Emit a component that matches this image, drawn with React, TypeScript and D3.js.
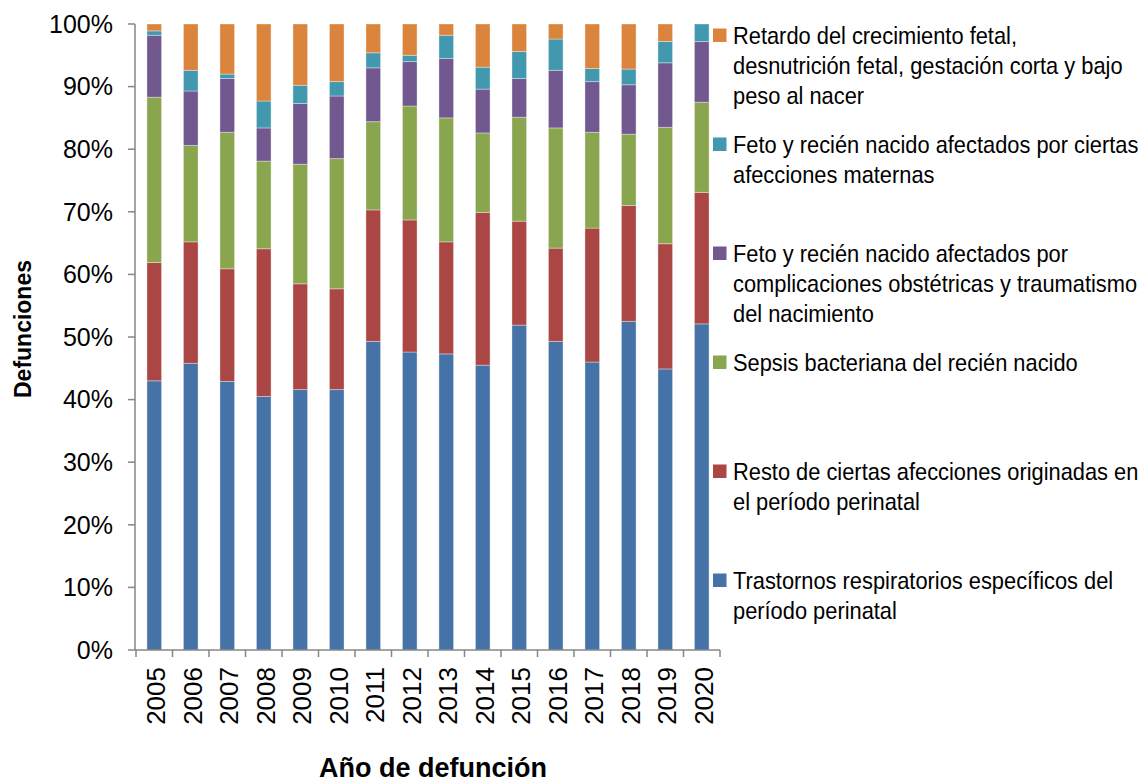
import React from "react";
import * as d3 from "d3";

const years = ["2005","2006","2007","2008","2009","2010","2011","2012","2013","2014","2015","2016","2017","2018","2019","2020"];

// percentages per series (bottom to top)
const trastornos = [43.0,45.8,42.9,40.5,41.6,41.6,49.3,47.6,47.3,45.5,51.9,49.3,46.0,52.5,44.9,52.1];
const resto      = [18.9,19.4,18.0,23.6,16.9,16.1,21.0,21.1,17.9,24.4,16.6,14.9,21.4,18.5,20.0,21.0];
const sepsis     = [26.4,15.4,21.8,14.0,19.1,20.8,14.1,18.2,19.8,12.7,16.6,19.2,15.3,11.4,18.6,14.4];
const complic    = [9.9,8.7,8.6,5.3,9.7,10.0,8.6,7.1,9.5,7.0,6.2,9.2,8.1,7.9,10.3,9.7];
const maternas   = [0.7,3.3,0.7,4.3,2.9,2.3,2.4,1.0,3.7,3.5,4.3,5.0,2.1,2.5,3.4,2.8];
const retardo    = [1.1,7.4,8.0,12.3,9.8,9.2,4.6,5.0,1.8,6.9,4.4,2.4,7.1,7.2,2.8,0.0];

const seriesKeys = ["trastornos","resto","sepsis","complic","maternas","retardo"];
const seriesValues = [trastornos, resto, sepsis, complic, maternas, retardo];
const seriesColors = ["#4572A7","#AA4643","#89A54E","#71588F","#4198AF","#DB843D"];

// legend order top to bottom
const legendLabels = [
  ["Retardo del crecimiento fetal,", "desnutrición fetal, gestación corta y bajo", "peso al nacer"],
  ["Feto y recién nacido afectados por ciertas", "afecciones maternas"],
  ["Feto y recién nacido afectados por", "complicaciones obstétricas y traumatismo", "del nacimiento"],
  ["Sepsis bacteriana del recién nacido"],
  ["Resto de ciertas afecciones originadas en", "el período perinatal"],
  ["Trastornos respiratorios específicos del", "período perinatal"],
];
const legendColors = ["#DB843D","#4198AF","#71588F","#89A54E","#AA4643","#4572A7"];

const yTicks = [0,10,20,30,40,50,60,70,80,90,100];

const W = 1145, H = 783;
const FONT = "'Liberation Sans', Arial, sans-serif";

export default function App() {
  const rows = years.map((y, i) => {
    const r: any = { year: y };
    seriesKeys.forEach((k, j) => { r[k] = seriesValues[j][i]; });
    return r;
  });
  const stacked = d3.stack().keys(seriesKeys)(rows as any);

  const x = d3.scaleBand().domain(years).range([136, 720]).paddingInner(0.6).paddingOuter(0.3);
  const y = d3.scaleLinear().domain([0, 100]).range([650, 24]);
  const step = x.step();

  return (
    <svg width={W} height={H} style={{ position: "absolute", left: 0, top: 0, background: "#fff" }}>
      {stacked.map((s, si) => (
        <g key={si} fill={seriesColors[si]}>
          {s.map((d, i) => {
            const y0 = y(d[0]), y1 = y(Math.min(d[1], 100));
            const h = y0 - y1;
            if (h <= 0) return null;
            return (
              <rect key={i} x={x(years[i])!} y={y1} width={x.bandwidth()} height={h}
                stroke="rgba(255,255,255,0.35)" strokeWidth={1} />
            );
          })}
        </g>
      ))}

      {/* y axis */}
      <line x1={135} x2={135} y1={y(100)} y2={y(0)} stroke="#868686" strokeWidth={1.5} />
      {yTicks.map(t => (
        <g key={t}>
          <line x1={128} x2={135} y1={y(t)} y2={y(t)} stroke="#868686" strokeWidth={1.5} />
          <text x={113} y={y(t)} dy="0.35em" textAnchor="end" fontFamily={FONT} fontSize={25} fill="#000">{t}%</text>
        </g>
      ))}

      {/* x axis */}
      <line x1={135} x2={720} y1={650} y2={650} stroke="#868686" strokeWidth={1.5} />
      {d3.range(years.length + 1).map(i => (
        <line key={i} x1={136 + step * i} x2={136 + step * i} y1={650} y2={657} stroke="#868686" strokeWidth={1.5} />
      ))}
      {years.map(yr => (
        <text key={yr} transform={`translate(${x(yr)! + x.bandwidth() / 2 + 2},667) rotate(-90)`}
          dy="0.35em" textAnchor="end" fontFamily={FONT} fontSize={26} fill="#000">{yr}</text>
      ))}

      {/* axis titles */}
      <text transform="translate(23,329) rotate(-90)" dy="0.35em" textAnchor="middle"
        fontFamily={FONT} fontSize={23} fontWeight="bold" fill="#000">Defunciones</text>
      <text x={433} y={777} textAnchor="middle" fontFamily={FONT} fontSize={27} fontWeight="bold" fill="#000">Año de defunción</text>

      {/* legend */}
      {legendLabels.map((lines, i) => {
        const top = 28.5 + 109 * i;
        return (
          <g key={i}>
            <rect x={713} y={top} width={13.5} height={13.5} fill={legendColors[i]} />
            {lines.map((ln, k) => (
              <text key={k} transform={`translate(733,${top + 15 + 30 * k}) scale(0.91,1)`}
                fontFamily={FONT} fontSize={24} fill="#000">{ln}</text>
            ))}
          </g>
        );
      })}
    </svg>
  );
}
